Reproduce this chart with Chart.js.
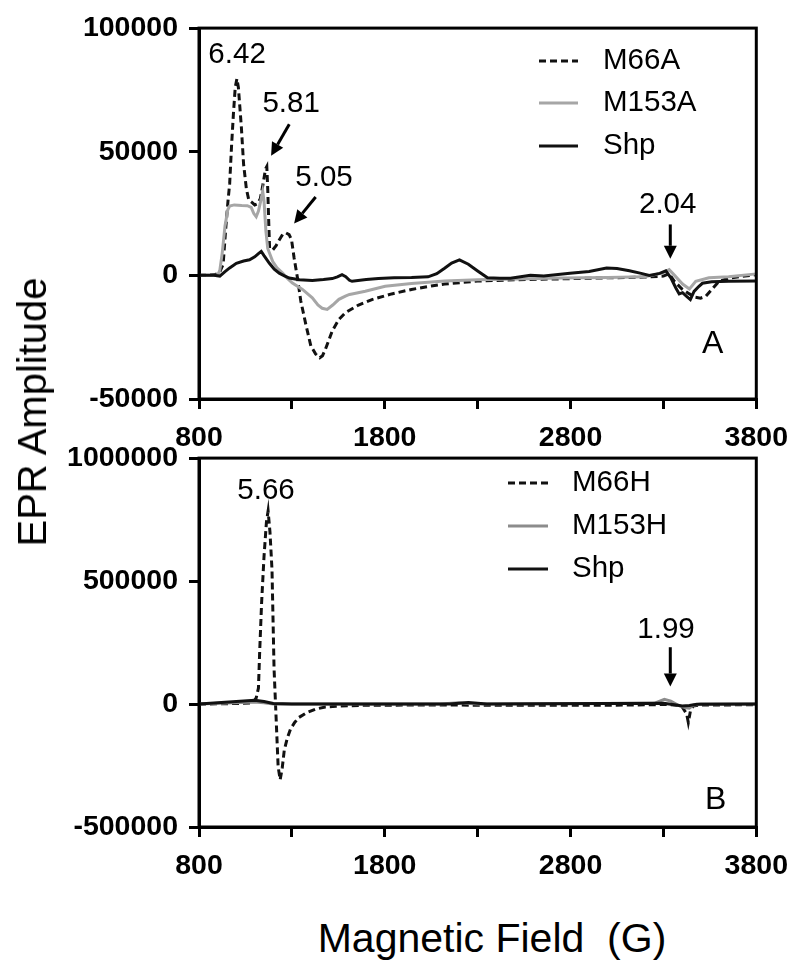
<!DOCTYPE html>
<html><head><meta charset="utf-8">
<script src="https://cdn.jsdelivr.net/npm/chart.js@4.4.0/dist/chart.umd.min.js"></script>
<style>
html,body{margin:0;padding:0;background:#fff;}
body{width:800px;height:972px;position:relative;overflow:hidden;font-family:"Liberation Sans",Arial,Helvetica,sans-serif;}
.cv{position:absolute;left:0;width:800px;height:470px;}
#wa{top:0;}
#wb{top:430px;}
.title{position:absolute;white-space:pre;color:#000;font-size:40px;line-height:40px;transform-origin:center center;}
#ytitle{left:32px;top:412px;transform:translate(-50%,-50%) rotate(-90deg);}
#xtitle{left:492px;top:938px;transform:translate(-50%,-50%);font-size:41px;}
</style></head><body>
<div class="cv" id="wa"><canvas id="ca" width="800" height="470"></canvas></div>
<div class="cv" id="wb"><canvas id="cb" width="800" height="470"></canvas></div>
<div class="title" id="ytitle">EPR Amplitude</div>
<div class="title" id="xtitle">Magnetic Field  (G)</div>
<script>
// ---------- Panel A data (field in G, EPR amplitude) ----------
const fieldA_M66A = [800,880,910,930,945,956,965,975,985,995,1004,1012,1020,1028,1040,1055,1068,1085,1100,1115,1130,1145,1158,1165,1170,1176,1180,1197,1215,1232,1250,1268,1285,1298,1312,1330,1348,1375,1402,1428,1450,1465,1481,1500,1517,1553,1588,1659,1731,1837,1944,2050,2122,2300,2500,2750,3000,3200,3300,3330,3360,3400,3440,3470,3500,3528,3563,3600,3650,3724,3800];
const ampA_M66A   = [0,200,1000,4500,20000,30000,37000,52000,65000,76000,79500,76000,68000,60000,45000,35000,30500,29500,28500,29000,31000,37000,43000,44000,35000,20000,11000,10300,12000,14300,16500,17200,16500,14500,7000,-1000,-10400,-19800,-28500,-31800,-33300,-32500,-29800,-26000,-22500,-17800,-15100,-12000,-9800,-7500,-5700,-4300,-3500,-2300,-1800,-1400,-1000,-700,-300,700,-2500,-5500,-7500,-8800,-9200,-8500,-5500,-2400,-1200,-400,300];

const fieldA_M153A = [800,900,912,925,940,955,965,990,1030,1060,1081,1095,1108,1120,1132,1143,1150,1160,1170,1197,1220,1250,1280,1303,1357,1410,1440,1463,1490,1520,1553,1588,1610,1624,1695,1802,1944,2122,2300,2500,2750,3000,3200,3297,3331,3360,3403,3440,3474,3545,3651,3800];
const ampA_M153A   = [0,0,2000,9000,20000,26500,28000,28500,28300,28200,27500,25000,23700,26000,30000,34000,30000,18000,10900,5600,3000,900,-1500,-3100,-5700,-9100,-12000,-13300,-13800,-12000,-9700,-8400,-7700,-7500,-6400,-4400,-3300,-2300,-1800,-1500,-1100,-900,-600,1000,2300,0,-3500,-5500,-2400,-1000,-600,600];

const fieldA_Shp = [800,880,912,940,965,1001,1040,1072,1100,1120,1135,1150,1179,1205,1232,1260,1286,1340,1410,1470,1517,1545,1570,1590,1610,1624,1700,1766,1850,1944,2033,2080,2122,2160,2202,2250,2300,2353,2420,2477,2584,2656,2797,2900,2994,3050,3117,3180,3224,3280,3313,3340,3367,3385,3403,3425,3445,3465,3490,3510,3560,3651,3800];
const ampA_Shp   = [0,0,-300,1500,3000,4900,5800,6300,7500,8800,9700,8000,4900,2500,900,-200,-1100,-1800,-2100,-1700,-1300,-600,300,-500,-2000,-2400,-1700,-1300,-1000,-900,-600,700,2900,5000,6300,4500,1800,-1000,-1200,-1200,0,-300,900,1600,3000,2800,1900,800,0,800,1800,-1000,-5100,-7500,-7000,-8500,-9800,-6500,-4500,-3200,-2600,-2400,-2300];

// ---------- Panel B data ----------
const fieldB_M66H = [800,1000,1090,1108,1120,1126,1137,1150,1163,1172,1182,1193,1204,1215,1226,1237,1248,1259,1275,1293,1315,1337,1380,1426,1480,1537,1700,2000,2500,3000,3312,3380,3401,3425,3434,3445,3460,3500,3800];
const ampB_M66H   = [0,2000,5000,25000,65000,200000,412000,600000,740000,785000,700000,545000,145000,-55000,-255000,-308000,-260000,-188000,-140000,-101000,-75000,-55000,-35000,-21000,-12000,-9000,-5000,-4000,-5000,-5000,-2000,-5000,-12000,-40000,-75000,-30000,-8000,-4000,-3000];

const fieldB_M153H = [800,1100,1150,1200,2100,2200,2300,3250,3305,3340,3380,3420,3439,3460,3500,3800];
const ampB_M153H   = [0,8000,5000,0,0,5000,0,3000,19000,12000,-5000,-15000,-17000,-5000,0,0];

const fieldB_Shp = [800,1100,1150,1200,1300,2150,2250,2350,3300,3360,3400,3440,3480,3800];
const ampB_Shp   = [0,15000,10000,2000,0,0,6000,0,3000,-3000,-8000,-6000,-1000,0];

// ---------- labels ----------
const xTickLabels = [800,1800,2800,3800];
const yTicksA = [-50000,0,50000,100000];
const yTicksB = [-500000,0,500000,1000000];
const seriesA = ['M66A','M153A','Shp'];
const seriesB = ['M66H','M153H','Shp'];

const FONT = '"Liberation Sans", Arial, Helvetica, sans-serif';
const pts = (xs, ys) => xs.map((v, i) => ({x: v, y: ys[i]}));

const framePlugin = {
  id: 'frameAnnot',
  afterDatasetsDraw(chart, args, o) {
    const {ctx, chartArea: a, scales: {x, y}} = chart;
    ctx.save();
    ctx.strokeStyle = '#000'; ctx.lineWidth = 3; ctx.setLineDash([]);
    ctx.strokeRect(a.left, a.top, a.right - a.left, a.bottom - a.top);
    ctx.fillStyle = '#000';
    ctx.textAlign = 'center'; ctx.textBaseline = 'middle';
    for (const t of o.texts) {
      ctx.font = (t.size || 29.5) + 'px ' + FONT;
      ctx.fillText(t.text, x.getPixelForValue(t.x), y.getPixelForValue(t.y));
    }
    for (const ar of o.arrows) {
      const x1 = x.getPixelForValue(ar.x1), y1 = y.getPixelForValue(ar.y1);
      const x2 = x.getPixelForValue(ar.x2), y2 = y.getPixelForValue(ar.y2);
      const ang = Math.atan2(y2 - y1, x2 - x1), hl = 13, hw = 6.5;
      const bx = x2 - hl * Math.cos(ang), by = y2 - hl * Math.sin(ang);
      ctx.lineWidth = 3; ctx.beginPath(); ctx.moveTo(x1, y1); ctx.lineTo(bx, by); ctx.stroke();
      ctx.beginPath(); ctx.moveTo(x2, y2);
      ctx.lineTo(bx + hw * Math.sin(ang), by - hw * Math.cos(ang));
      ctx.lineTo(bx - hw * Math.sin(ang), by + hw * Math.cos(ang));
      ctx.closePath(); ctx.fill();
    }
    const L = o.legend;
    chart.data.datasets.forEach((ds, i) => {
      const yy = a.top + L.rows[i];
      ctx.strokeStyle = ds.borderColor; ctx.lineWidth = ds.borderWidth;
      ctx.setLineDash(ds.borderDash || []);
      ctx.beginPath(); ctx.moveTo(a.left + L.x1, yy); ctx.lineTo(a.left + L.x2, yy); ctx.stroke();
      ctx.setLineDash([]);
      ctx.fillStyle = '#000'; ctx.font = L.size + 'px ' + FONT;
      ctx.textAlign = 'left'; ctx.textBaseline = 'middle';
      ctx.fillText(ds.label, a.left + L.tx, yy);
    });
    ctx.restore();
  }
};

function makeChart(canvasId, series, seriesData, colors, yTicks, padTop, xAxisH, annot) {
  const datasets = series.map((name, i) => ({
    label: name,
    data: seriesData[i],
    borderColor: colors[i],
    borderWidth: 3,
    borderDash: i === 0 ? [7, 4] : [],
    pointRadius: 0,
    fill: false,
    tension: 0,
    order: [2, 1, 0][i]
  }));
  return new Chart(document.getElementById(canvasId), {
    type: 'line',
    data: {datasets},
    options: {
      responsive: false, animation: false,
      layout: {padding: {left: 0, right: 39, top: padTop, bottom: 0}},
      plugins: {legend: {display: false}, tooltip: {enabled: false}, frameAnnot: annot},
      scales: {
        x: {
          type: 'linear', min: 800, max: 3800,
          afterFit: s => { s.height = xAxisH; },
          afterBuildTicks: s => { s.ticks = [800,1300,1800,2300,2800,3300,3800].map(v => ({value: v})); },
          ticks: {autoSkip: false, maxRotation: 0, padding: 12, color: '#000',
                  font: {family: FONT, size: 28.5, weight: 'bold'},
                  callback: v => xTickLabels.includes(v) ? String(v) : ''},
          grid: {drawOnChartArea: false, drawTicks: true, tickLength: 10, color: '#000', lineWidth: 3},
          border: {display: true, color: '#000', width: 3}
        },
        y: {
          type: 'linear', min: yTicks[0], max: yTicks[yTicks.length - 1],
          afterFit: s => { s.width = 199; },
          afterBuildTicks: s => { s.ticks = yTicks.map(v => ({value: v})); },
          ticks: {padding: 11, color: '#000', font: {family: FONT, size: 28.5, weight: 'bold'},
                  callback: v => String(v)},
          grid: {drawOnChartArea: false, drawTicks: true, tickLength: 10, color: '#000', lineWidth: 3},
          border: {display: true, color: '#000', width: 3}
        }
      }
    },
    plugins: [framePlugin]
  });
}

makeChart('ca', seriesA,
  [pts(fieldA_M66A, ampA_M66A), pts(fieldA_M153A, ampA_M153A), pts(fieldA_Shp, ampA_Shp)],
  ['#111111', '#a6a6a6', '#111111'], yTicksA, 25, 71,
  {
    texts: [
      {text: '6.42', x: 1005, y: 89000},
      {text: '5.81', x: 1296, y: 69400},
      {text: '5.05', x: 1473, y: 39300},
      {text: '2.04', x: 3323, y: 28500},
      {text: 'A', x: 3565, y: -28000, size: 32}
    ],
    arrows: [
      {x1: 1286, y1: 61100, x2: 1188, y2: 48400},
      {x1: 1428, y1: 31700, x2: 1312, y2: 21000},
      {x1: 3337, y1: 20600, x2: 3337, y2: 6700}
    ],
    legend: {x1: 340, x2: 379, tx: 404, rows: [33, 75, 118], size: 29.5}
  });

makeChart('cb', seriesB,
  [pts(fieldB_M66H, ampB_M66H), pts(fieldB_M153H, ampB_M153H), pts(fieldB_Shp, ampB_Shp)],
  ['#111111', '#8c8c8c', '#111111'], yTicksB, 23, 73,
  {
    texts: [
      {text: '5.66', x: 1161, y: 866000},
      {text: '1.99', x: 3314, y: 302000},
      {text: 'B', x: 3581, y: -390000, size: 32}
    ],
    arrows: [
      {x1: 3337, y1: 231000, x2: 3337, y2: 71000}
    ],
    legend: {x1: 309, x2: 349, tx: 373, rows: [25, 68, 111], size: 29.5}
  });
</script>
</body></html>
